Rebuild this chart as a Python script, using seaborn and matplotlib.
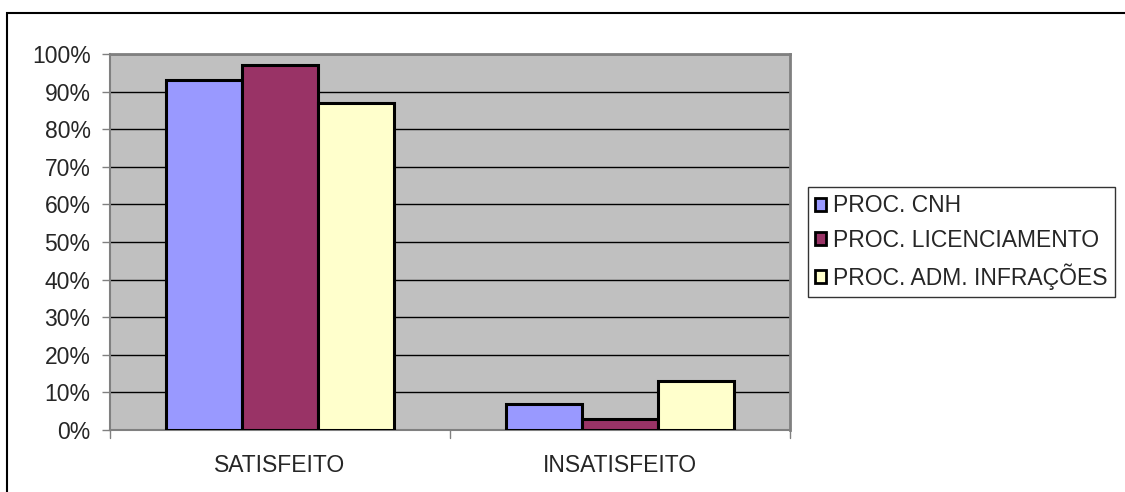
import matplotlib.pyplot as plt
import pandas as pd
import seaborn as sns
from matplotlib.patches import Rectangle
from matplotlib.ticker import FuncFormatter

categorias = ['SATISFEITO', 'INSATISFEITO']
series = ['PROC. CNH', 'PROC. LICENCIAMENTO', 'PROC. ADM. INFRAÇÕES']
proc_cnh = [93, 7]
proc_licenciamento = [97, 3]
proc_adm_infracoes = [87, 13]
cores = ['#9999FF', '#993366', '#FFFFCC']

df = pd.DataFrame({
    'Categoria': categorias * 3,
    'Serie': [s for s in series for _ in categorias],
    'Valor': proc_cnh + proc_licenciamento + proc_adm_infracoes,
})

sns.set_theme(style='white')
plt.rcParams['font.family'] = ['Liberation Sans', 'DejaVu Sans']

fig = plt.figure(figsize=(11.25, 4.92), dpi=100)
ax = fig.add_axes([110 / 1125, 1 - 430 / 492, 680 / 1125, 376 / 492])

sns.barplot(data=df, x='Categoria', y='Valor', hue='Serie', hue_order=series,
            palette=cores, width=0.67, gap=0, edgecolor='black', linewidth=2.2,
            saturation=1, ax=ax, zorder=3)

ax.set_facecolor('#C0C0C0')
ax.set_ylim(0, 100)
ax.set_xlim(-0.5, 1.5)
ax.set_yticks(range(0, 101, 10))
ax.yaxis.set_major_formatter(FuncFormatter(lambda y, _: f'{int(y)}%'))
ax.grid(axis='y', color='black', linewidth=1, zorder=0)
ax.set_axisbelow(True)
ax.set_xlabel('')
ax.set_ylabel('')
ax.tick_params(axis='y', length=6, width=1, color='#808080', labelsize=16.5, pad=8, left=True)
ax.tick_params(axis='x', length=0, labelsize=16.5, pad=17)
for x in [-0.5, 0.5, 1.5]:
    ax.plot([x, x], [0, -2], color='#808080', lw=1, clip_on=False)
for lado in ['left', 'bottom', 'top', 'right']:
    ax.spines[lado].set_color('#808080')
    ax.spines[lado].set_linewidth(2 if lado in ('top', 'right') else 1.5)

leg = ax.legend(loc='center left', bbox_to_anchor=(808 / 1125, 1 - 242 / 492),
                bbox_transform=fig.transFigure, frameon=True, fancybox=False,
                fontsize=16.5, handlelength=0.5, handleheight=0.5,
                handletextpad=0.3, borderpad=0.3, labelspacing=0.5,
                borderaxespad=0)
leg.get_frame().set_edgecolor('black')
leg.get_frame().set_linewidth(1)
for h in leg.legend_handles:
    h.set_linewidth(2)

fig.patches.append(Rectangle((6.5 / 1125, -0.1), 1.2, 1.1 - 13 / 492,
                             transform=fig.transFigure, fill=False,
                             edgecolor='black', linewidth=1.5))

fig.savefig('out.png', dpi=100)
